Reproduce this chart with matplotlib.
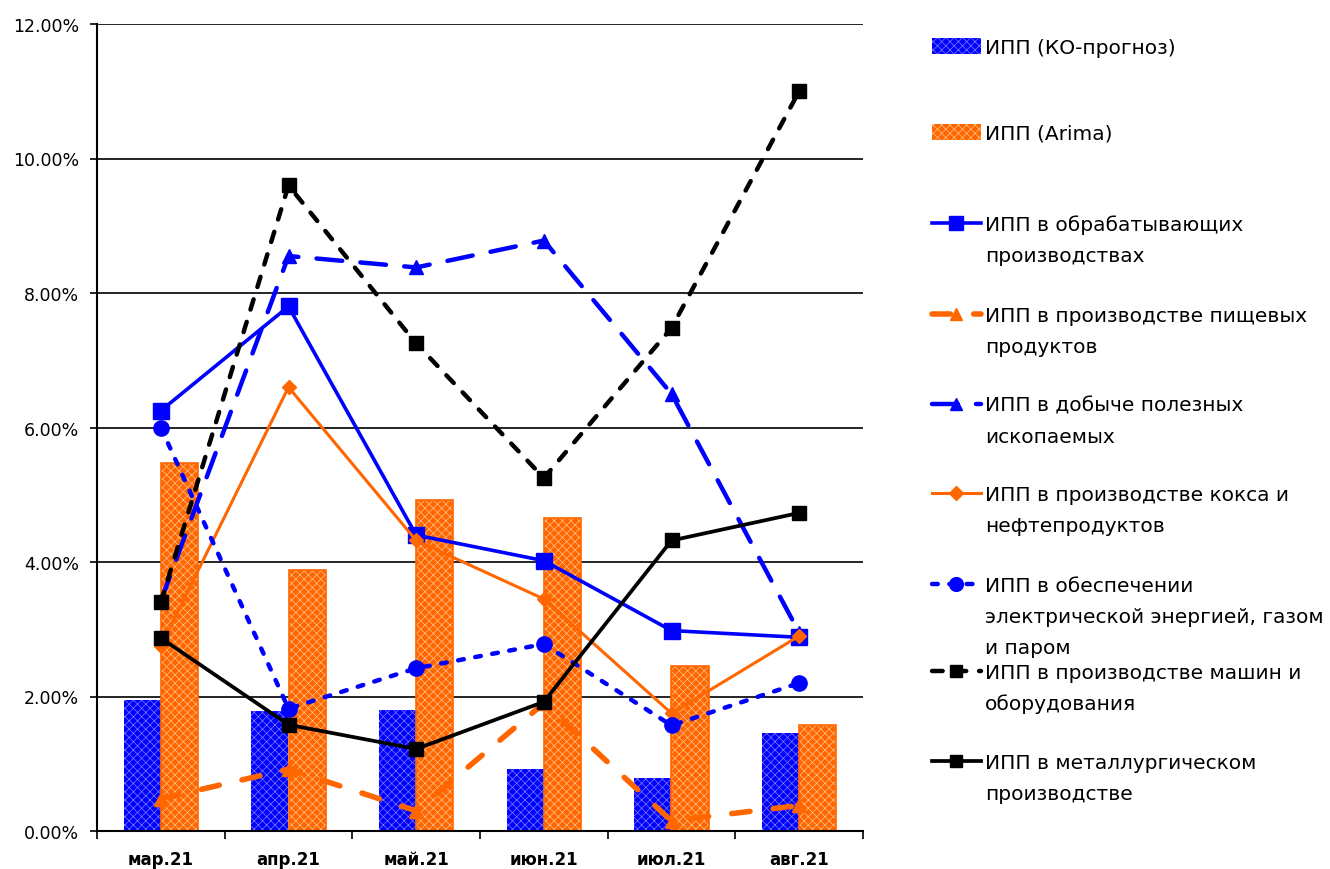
import matplotlib.pyplot as plt
from matplotlib.lines import Line2D
from matplotlib.patches import Rectangle
from matplotlib.ticker import FuncFormatter
import numpy as np

months = ["мар.21", "апр.21", "май.21", "июн.21", "июл.21", "авг.21"]

ko_prognoz = [1.95, 1.78, 1.80, 0.92, 0.79, 1.46]
arima = [5.47, 3.88, 4.92, 4.65, 2.45, 1.57]

obrab = [6.25, 7.80, 4.40, 4.02, 2.98, 2.88]
pishch = [0.48, 0.92, 0.30, 1.90, 0.15, 0.38]
dobycha = [3.42, 8.55, 8.38, 8.78, 6.50, 2.95]
koks = [2.75, 6.60, 4.32, 3.45, 1.75, 2.90]
energ = [6.00, 1.82, 2.42, 2.78, 1.57, 2.20]
mashin = [3.40, 9.60, 7.25, 5.25, 7.48, 11.00]
metall = [2.87, 1.58, 1.22, 1.92, 4.32, 4.73]

labels = [
    "ИПП (КО-прогноз)",
    "ИПП (Arima)",
    "ИПП в обрабатывающих\nпроизводствах",
    "ИПП в производстве пищевых\nпродуктов",
    "ИПП в добыче полезных\nископаемых",
    "ИПП в производстве кокса и\nнефтепродуктов",
    "ИПП в обеспечении\nэлектрической энергией, газом\nи паром",
    "ИПП в производстве машин и\nоборудования",
    "ИПП в металлургическом\nпроизводстве",
]

BLUE = "#0000FF"
ORANGE = "#FF6600"
BLUE_H = "#7f7fff"
ORANGE_H = "#ffc48a"

plt.rcParams["font.family"] = "DejaVu Sans"
plt.rcParams["hatch.linewidth"] = 0.5

W, H = 1330, 870
fig = plt.figure(figsize=(W / 100, H / 100), dpi=100)
ax = fig.add_axes([97 / W, 1 - 832 / H, (863 - 97) / W, (832 - 25) / H])

x = np.arange(len(months))
bw = 0.29

# bars: solid fill + light hatch overlay
ax.bar(x - bw / 2, ko_prognoz, bw, color=BLUE, linewidth=0, zorder=2)
ax.bar(x - bw / 2, ko_prognoz, bw, fill=False, hatch="xxxx", edgecolor=BLUE_H, linewidth=0, zorder=2)
ax.bar(x + bw / 2, arima, bw, color=ORANGE, linewidth=0, zorder=2)
ax.bar(x + bw / 2, arima, bw, fill=False, hatch="xxxx", edgecolor=ORANGE_H, linewidth=0, zorder=2)
ax.bar(x + bw / 2, arima, bw, fill=False, edgecolor=ORANGE, linewidth=1.2, zorder=2)

# line series: (data, color, linestyle, marker, markersize, linewidth)
series = [
    (obrab, BLUE, "-", "s", 11, 2.6),
    (pishch, ORANGE, (0, (3.3, 4.2)), "^", 10, 4.0),
    (dobycha, BLUE, (0, (5.8, 4.1)), "^", 10, 3.2),
    (koks, ORANGE, "-", "D", 7.5, 2.2),
    (energ, BLUE, (0, (1.3, 2.6)), "o", 11, 3.2),
    (mashin, "black", (0, (2.4, 2.9)), "s", 10, 3.2),
    (metall, "black", "-", "s", 10, 2.7),
]
for data, col, ls, mk, ms, lw in series:
    ax.plot(x, data, color=col, linestyle=ls, marker=mk, markersize=ms,
            linewidth=lw, dash_capstyle="round", zorder=3)

ax.set_xlim(-0.5, len(months) - 0.5)
ax.set_ylim(0, 12)
ax.set_yticks(np.arange(0, 12.01, 2))
ax.yaxis.set_major_formatter(FuncFormatter(lambda v, p: f"{v:.2f}%"))
ax.yaxis.grid(True, color="black", linewidth=1.2, zorder=0)
ax.set_axisbelow(True)
ax.set_xticks(x)
ax.set_xticklabels(months, fontweight="bold", fontsize=12)
ax.set_xticks(np.arange(-0.5, len(months)), minor=True)
ax.tick_params(axis="x", which="major", length=0, pad=14)
ax.tick_params(axis="x", which="minor", length=6, width=1.2, direction="out")
ax.tick_params(axis="y", length=5, width=1.2, labelsize=12.5, pad=8)
for s in ["top", "right"]:
    ax.spines[s].set_visible(False)
for s in ["left", "bottom"]:
    ax.spines[s].set_linewidth(1.5)

# legend drawn by hand to keep Excel-like even spacing
entry_y = [47, 133, 224, 315, 405, 494, 585, 672, 762]
hx0, hx1, tx = 932, 981, 985
line_step = 31


def fx(px):
    return px / W


def fy(py):
    return 1 - py / H


for i, (lab, yy) in enumerate(zip(labels, entry_y)):
    if i < 2:
        col = BLUE if i == 0 else ORANGE
        hc = BLUE_H if i == 0 else ORANGE_H
        fig.add_artist(Rectangle((fx(hx0), fy(yy + 8)), fx(hx1 - hx0), 16 / H,
                                 facecolor=col, edgecolor=hc, hatch="xxxx",
                                 linewidth=0, transform=fig.transFigure))
    else:
        data, col, ls, mk, ms, lw = series[i - 2]
        fig.add_artist(Line2D([fx(hx0), fx((hx0 + hx1) / 2), fx(hx1)], [fy(yy)] * 3,
                              color=col, linestyle=ls, linewidth=lw,
                              dash_capstyle="round",
                              marker=mk, markersize=ms * 0.9, markevery=[1],
                              transform=fig.transFigure))
    for k, part in enumerate(lab.split("\n")):
        fig.text(fx(tx), fy(yy + 7 + k * line_step), part, fontsize=14.5,
                 va="baseline", ha="left")

fig.savefig("out.png", dpi=100)
